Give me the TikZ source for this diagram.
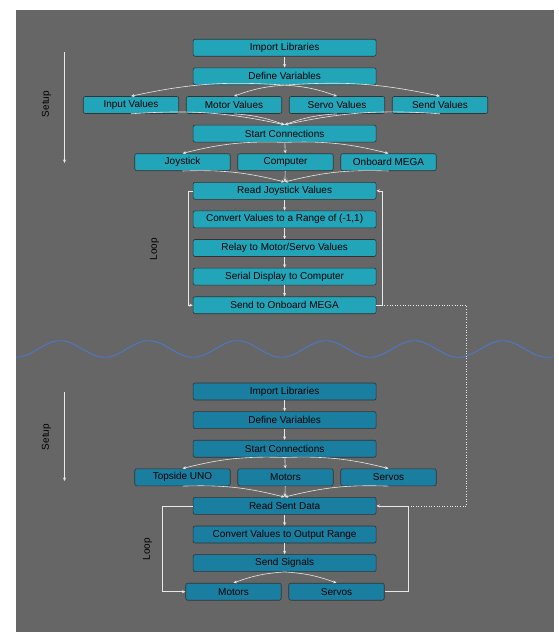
\documentclass[tikz,border=0pt]{standalone}
\usepackage{fontspec}
\setmainfont{Liberation Sans}
\usetikzlibrary{arrows.meta}

\definecolor{bggray}{RGB}{102,102,102}
\definecolor{toptile}{RGB}{34,164,185}
\definecolor{bottile}{RGB}{26,126,160}
\definecolor{wavecol}{RGB}{74,122,204}
\definecolor{linecol}{RGB}{232,232,232}

\tikzset{
  box/.style={draw=black!80, line width=0.6pt, rounded corners=2pt,
    minimum height=17pt, inner sep=0pt, font=\fontsize{10}{12}\selectfont},
  wide/.style={box, minimum width=183pt},
  narrow/.style={box, minimum width=95.5pt},
  flow/.style={draw=linecol, line width=0.6pt, -{Stealth[length=3.5pt,width=3pt]}},
  link/.style={draw=linecol, line width=0.6pt},
  tag/.style={rotate=90, font=\fontsize{10}{12}\selectfont},
}

\begin{document}
\begin{tikzpicture}[x=1pt, y=1pt]
\useasboundingbox (0,0) rectangle (559,-632);
\fill[bggray] (16,-10) rectangle (554,-632);

% ---- topside controller ----
\begin{scope}[box/.append style={fill=toptile}]
    \node[wide] (imp1)   at (284.6,-47.7)  {Import Libraries};
    \node[wide] (def1)   at (284.6,-76.3)  {Define Variables};
    \foreach \n/\t [count=\i] in {inp/Input Values, mot/Motor Values, srv/Servo Values, snd/Send Values}
        \node[narrow] (\n) at (28+103*\i,-105) {\t};
    \node[wide] (start1) at (284.6,-133.6) {Start Connections};
    \foreach \n/\t [count=\i] in {joy/Joystick, comp/Computer, mega/Onboard MEGA}
        \node[narrow] (\n) at (79.5+103*\i,-162.2) {\t};
    \node[wide] (read1)  at (284.6,-190.8) {Read Joystick Values};
    \node[wide] (conv1)  at (284.6,-219.4) {Convert Values to a Range of (-1,1)};
    \node[wide] (relay)  at (284.6,-248)   {Relay to Motor/Servo Values};
    \node[wide] (serial) at (284.6,-276.6) {Serial Display to Computer};
    \node[wide] (send1)  at (284.6,-305.2) {Send to Onboard MEGA};
\end{scope}

\draw[flow] (imp1) -- (def1);
\draw[flow] (def1.south) to[bend right=8] (inp.north);
\draw[flow] (def1.south) to[bend right=8] (mot.north);
\draw[flow] (def1.south) to[bend left=8] (srv.north);
\draw[flow] (def1.south) to[bend left=8] (snd.north);
\draw[flow] (inp.south) to[bend left=8] (start1.north);
\draw[flow] (mot.south) to[bend left=8] (start1.north);
\draw[flow] (srv.south) to[bend right=8] (start1.north);
\draw[flow] (snd.south) to[bend right=8] (start1.north);
\draw[flow] (start1.south) to[bend right=8] (joy.north);
\draw[flow] (start1) -- (comp);
\draw[flow] (start1.south) to[bend left=8] (mega.north);
\draw[flow] (joy.south) to[bend left=8] (read1.north);
\draw[flow] (comp) -- (read1);
\draw[flow] (mega.south) to[bend right=8] (read1.north);
\foreach \a/\b in {read1/conv1, conv1/relay, relay/serial, serial/send1}
    \draw[flow] (\a) -- (\b);
% loop back
\draw[flow] (read1.west) -- ++(-5,0) |- (send1.west);
\draw[flow] (send1.east) -- ++(5.4,0) coordinate (jct1) |- (read1.east);

\coordinate (s1a) at (64.5,-52);
\coordinate (s1b) at (64.5,-163);
\draw[flow] (s1a) -- (s1b);
\node[tag] (setup1) at (46.5,-104) {Setup};
\node[tag] (loop1) at (154.5,-249) {Loop};

% ---- wave ----
\draw[wavecol, line width=0.9pt, domain=16:554, samples=240, smooth]
    plot (\x, {-349 - 8.3*cos(4.0678*(\x-16))});

% ---- onboard controller ----
\begin{scope}[box/.append style={fill=bottile}]
    \node[wide] (imp2)    at (284.6,-391.5) {Import Libraries};
    \node[wide] (def2)    at (284.6,-420.1) {Define Variables};
    \node[wide] (start2)  at (284.6,-448.7) {Start Connections};
    \foreach \n/\t [count=\i] in {uno/Topside UNO, motors/Motors, servos/Servos}
        \node[narrow] (\n) at (79.5+103*\i,-477.3) {\t};
    \node[wide] (read2)   at (284.6,-505.9) {Read Sent Data};
    \node[wide] (conv2)   at (284.6,-534.5) {Convert Values to Output Range};
    \node[wide] (signals) at (284.6,-563.1) {Send Signals};
    \node[narrow] (mout)  at (233.5,-591.7) {Motors};
    \node[narrow] (sout)  at (336.5,-591.7) {Servos};
\end{scope}

\draw[flow] (imp2) -- (def2);
\draw[flow] (def2) -- (start2);
\draw[flow] (start2.south) to[bend right=8] (uno.north);
\draw[flow] (start2) -- (motors);
\draw[flow] (start2.south) to[bend left=8] (servos.north);
\draw[flow] (uno.south) to[bend left=8] (read2.north);
\draw[flow] (motors) -- (read2);
\draw[flow] (servos.south) to[bend right=8] (read2.north);
\draw[flow] (read2) -- (conv2);
\draw[flow] (conv2) -- (signals);
\draw[flow] (signals.south) to[bend right=8] (mout.north);
\draw[flow] (signals.south) to[bend left=8] (sout.north);
% loop back
\draw[flow] (read2.west) -- ++(-31,0) |- (mout.west);
\draw[flow] (sout.east) -- ++(24,0) |- coordinate[pos=0.5] (jct2) (read2.east);

% link between the two boards
\draw[link, dotted, line width=0.8pt] (jct1) -- ++(84.6,0) |- (jct2);

\coordinate (s2a) at (64.5,-392);
\coordinate (s2b) at (64.5,-481);
\draw[flow] (s2a) -- (s2b);
\node[tag] (setup2) at (46.5,-437) {Setup};
\node[tag] (loop2) at (147.5,-549) {Loop};

\end{tikzpicture}
\end{document}
